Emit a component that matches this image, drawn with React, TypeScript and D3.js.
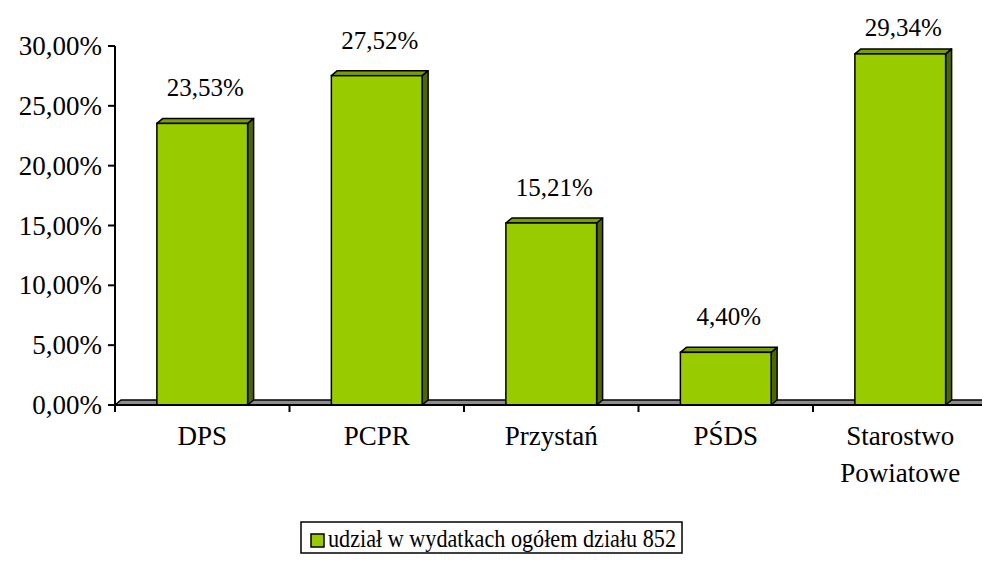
import * as d3 from 'd3';

const categories = ['DPS', 'PCPR', 'Przystań', 'PŚDS', 'Starostwo Powiatowe'];
const shares = [0.2353, 0.2752, 0.1521, 0.044, 0.2934];
const yTicks = [0, 0.05, 0.1, 0.15, 0.2, 0.25, 0.3];
const seriesName = 'udział w wydatkach ogółem działu 852';

const plLocale = d3.formatLocale({
  decimal: ',',
  thousands: ' ',
  grouping: [3],
  currency: ['', ' zł'],
});
const pct = plLocale.format('.2%');

const width = 982;
const height = 563;
const font = 'Times New Roman';
const depthX = 6;
const depthY = 5;

const x = d3.scaleBand().domain(categories).range([115, 987.5]);
const y = d3.scaleLinear().domain([0, 0.3]).range([405, 46]);
const y0 = y(0);
const barW = x.bandwidth() * 0.52;
const bx = (c: string) => (x(c) as number) + (x.bandwidth() - barW) / 2;

const App = () => {
  const xEnd = x.range()[1];
  return (
    <svg
      width={width}
      height={height}
      style={{ position: 'absolute', left: 0, top: 0, background: '#fff' }}
    >
      <style>{`text, tspan { font-family: 'Times New Roman', 'Liberation Serif', Tinos, serif !important; }`}</style>
      {/* floor slab */}
      <path
        d={`M115,${y0} L${115 + depthX},${y0 - depthY} L${xEnd + depthX},${y0 - depthY} L${xEnd},${y0} Z`}
        fill="#8c8c8c"
        stroke="#000"
        strokeWidth={1.5}
      />

      {categories.map((c, i) => {
        const a = bx(c);
        const t = y(shares[i]);
        return (
          <g key={c}>
            <path
              d={`M${a + barW},${t} L${a + barW + depthX},${t - depthY} L${a + barW + depthX},${y0 - depthY} L${a + barW},${y0} Z`}
              fill="#4d6600"
              stroke="#000"
              strokeWidth={1.5}
              strokeLinejoin="round"
            />
            <path
              d={`M${a},${t} L${a + depthX},${t - depthY} L${a + barW + depthX},${t - depthY} L${a + barW},${t} Z`}
              fill="#7a9e00"
              stroke="#000"
              strokeWidth={1.5}
              strokeLinejoin="round"
            />
            <rect x={a} y={t} width={barW} height={y0 - t} fill="#99cc00" stroke="#000" strokeWidth={1.5} />
            <text
              x={a + barW / 2 + depthX / 2}
              y={Math.max(36, t - depthY - 22)}
              textAnchor="middle"
              fontFamily={font}
              fontSize={25}
            >
              {pct(shares[i])}
            </text>
          </g>
        );
      })}

      {/* y axis */}
      <line x1={115} x2={115} y1={y(0.3)} y2={y0 + 5} stroke="#000" strokeWidth={2} />
      {yTicks.map(v => (
        <g key={v}>
          <line x1={108} x2={115} y1={y(v)} y2={y(v)} stroke="#000" strokeWidth={2} />
          <text x={102} y={y(v) + 9} textAnchor="end" fontFamily={font} fontSize={27}>
            {pct(v)}
          </text>
        </g>
      ))}

      {/* x axis */}
      <line x1={115} x2={width} y1={y0} y2={y0} stroke="#000" strokeWidth={2} />
      {categories.map(c => (
        <line key={c} x1={x(c)} x2={x(c)} y1={y0} y2={y0 + 7} stroke="#000" strokeWidth={2} />
      ))}
      {categories.map(c => (
        <text key={c} textAnchor="middle" fontFamily={font} fontSize={27}>
          {c.split(' ').map((w, i) => (
            <tspan key={w} x={(x(c) as number) + x.bandwidth() / 2} y={445 + i * 37}>
              {w}
            </tspan>
          ))}
        </text>
      ))}

      {/* legend */}
      <g transform="translate(301, 522)">
        <rect width={381} height={31} fill="#fff" stroke="#000" strokeWidth={1.5} />
        <rect x={10} y={12} width={13} height={13} fill="#99cc00" stroke="#000" strokeWidth={1.5} />
        <text
          x={27}
          y={25}
          fontFamily={font}
          fontSize={25}
          textLength={348}
          lengthAdjust="spacingAndGlyphs"
        >
          {seriesName}
        </text>
      </g>
    </svg>
  );
};

export default App;
